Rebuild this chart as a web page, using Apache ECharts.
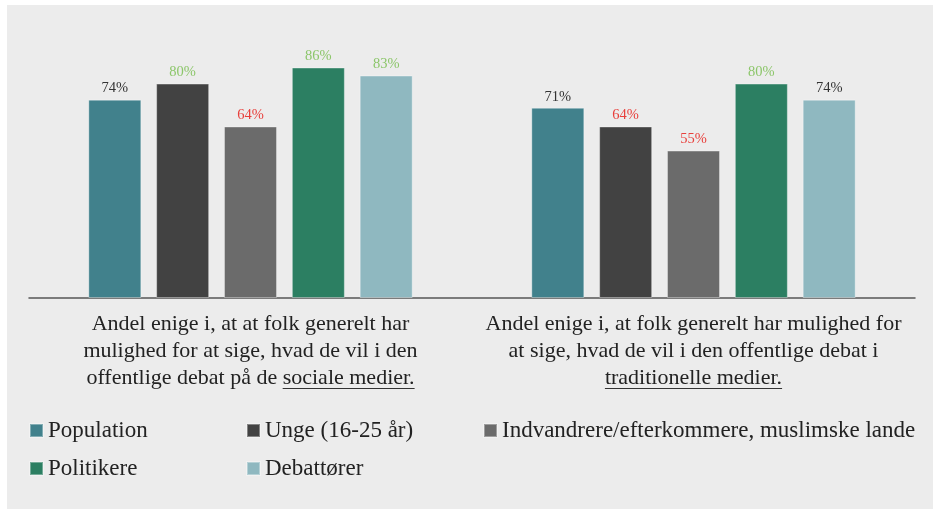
<!DOCTYPE html>
<html>
<head>
<meta charset="utf-8">
<script src="https://cdn.jsdelivr.net/npm/echarts@6/dist/echarts.min.js"></script>
<style>
  html, body { margin: 0; padding: 0; background: #ffffff; width: 933px; height: 509px; overflow: hidden; }
  #c { position: absolute; left: 7px; top: 5px; width: 926px; height: 504px; }
</style>
</head>
<body>
<div id="c"></div>
<script>
// ---- data ----
const categories = [
  'Andel enige i, at at folk generelt har\nmulighed for at sige, hvad de vil i den\noffentlige debat på de sociale medier.',
  'Andel enige i, at folk generelt har mulighed for\nat sige, hvad de vil i den offentlige debat i\ntraditionelle medier.'
];
const underlined = ['sociale medier.', 'traditionelle medier.'];
const seriesNames = ['Population', 'Unge (16-25 år)', 'Indvandrere/efterkommere, muslimske lande', 'Politikere', 'Debattører'];
const population = [74, 71];
const unge = [80, 64];
const indvandrere = [64, 55];
const politikere = [86, 80];
const debattorer = [83, 74];
// label tone: 'h' = higher (green), 'l' = lower (red), 'n' = neutral
const populationTone = ['n', 'n'];
const ungeTone = ['h', 'l'];
const indvandrereTone = ['l', 'l'];
const politikereTone = ['h', 'h'];
const debattorerTone = ['h', 'n'];

// ---- styling ----
const FONT = '"Liberation Serif", "Times New Roman", serif';
const CAT_SIZE = 22;
const CAT_LH = 27;
const CAT_MARGIN = 12.5;
const colors = ['#41818c', '#424242', '#6b6b6b', '#2c7f62', '#8fb8c0'];
const toneColor = { h: '#8cc66a', l: '#e8403c', n: '#333333' };
const values = [population, unge, indvandrere, politikere, debattorer];
const tones = [populationTone, ungeTone, indvandrereTone, politikereTone, debattorerTone];

const chart = echarts.init(document.getElementById('c'), null, { renderer: 'canvas' });

const series = seriesNames.map((name, i) => ({
  name,
  type: 'bar',
  barWidth: 53,
  barGap: '28%',
  itemStyle: { color: colors[i], borderColor: 'rgba(255,255,255,0.35)', borderWidth: 1 },
  label: {
    show: true,
    position: 'top',
    distance: 3.5,
    fontFamily: FONT,
    fontSize: 14.5,
    formatter: p => p.value + '%'
  },
  data: values[i].map((v, j) => ({ value: v, label: { color: toneColor[tones[i][j]] } }))
}));

const legendCommon = {
  orient: 'vertical',
  top: 414,
  itemWidth: 13,
  itemHeight: 13,
  itemGap: 15,
  icon: 'rect',
  selectedMode: false,
  textStyle: { fontFamily: FONT, fontSize: 23, color: '#222' },
  padding: 0
};

chart.setOption({
  backgroundColor: '#ececec',
  animation: false,
  color: colors,
  legend: [
    Object.assign({}, legendCommon, { left: 22, data: [seriesNames[0], seriesNames[3]] }),
    Object.assign({}, legendCommon, { left: 239, data: [seriesNames[1], seriesNames[4]] }),
    Object.assign({}, legendCommon, { left: 476, data: [seriesNames[2]] })
  ],
  grid: { left: 22, right: 18, top: 25, bottom: 211, containLabel: false },
  xAxis: {
    type: 'category',
    data: categories,
    axisTick: { show: false },
    axisLine: { lineStyle: { color: '#555', width: 1.5 } },
    axisLabel: {
      interval: 0,
      margin: CAT_MARGIN,
      fontFamily: FONT,
      fontSize: CAT_SIZE,
      lineHeight: CAT_LH,
      color: '#222',
      formatter: (val, idx) => {
        const u = underlined[idx];
        return u ? val.replace(u, '{u|' + u + '}') : val;
      },
      rich: { u: { fontFamily: FONT, fontSize: CAT_SIZE, lineHeight: CAT_LH, color: '#222' } }
    }
  },
  yAxis: { type: 'value', min: 0, max: 100, show: false, splitLine: { show: false } },
  series
});

// underline decoration under the highlighted phrases
const cv = document.createElement('canvas').getContext('2d');
cv.font = CAT_SIZE + 'px ' + FONT;
const axisY = chart.convertToPixel({ yAxisIndex: 0 }, 0);
const elements = [];
categories.forEach((cat, idx) => {
  const lines = cat.split('\n');
  const last = lines[lines.length - 1];
  const u = underlined[idx];
  const pos = last.indexOf(u);
  if (pos < 0) return;
  const cx = chart.convertToPixel({ xAxisIndex: 0 }, idx);
  const total = cv.measureText(last).width;
  const x0 = cx - total / 2 + cv.measureText(last.slice(0, pos)).width;
  const w = cv.measureText(u).width;
  const lineCenter = axisY + CAT_MARGIN + CAT_LH * (lines.length - 0.5);
  const y = Math.round(lineCenter + 10) + 0.5;
  elements.push({
    type: 'line', silent: true,
    shape: { x1: x0, y1: y, x2: x0 + w, y2: y },
    style: { stroke: '#333', lineWidth: 1 }
  });
});
chart.setOption({ graphic: { elements } });
</script>
</body>
</html>
